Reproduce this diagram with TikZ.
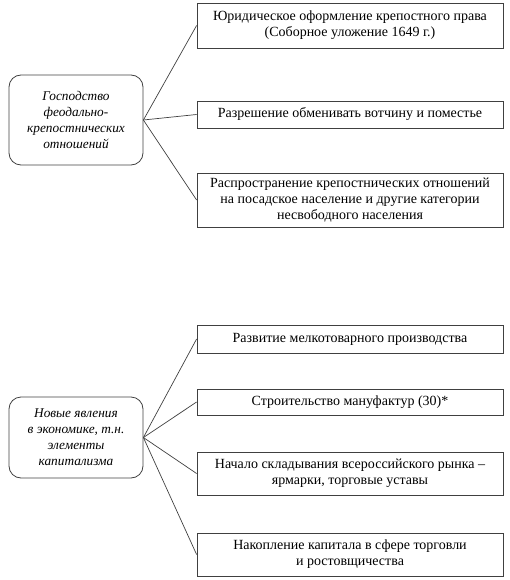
\documentclass[tikz,border=0pt]{standalone}
\usepackage{fontspec}
\setmainfont{Liberation Serif}
\begin{document}
\begin{tikzpicture}[x=1pt,y=-1pt,
  lbox/.style={draw=black!75,line width=0.8pt,rounded corners=12pt,align=center,
    font=\fontsize{13.3}{16}\selectfont\itshape,inner sep=0pt},
  rbox/.style={draw=black!75,line width=0.8pt,align=center,
    font=\fontsize{14}{15.8}\selectfont,inner sep=0pt},
  link/.style={draw=black!75,line width=0.7pt}]
\useasboundingbox (0,0) rectangle (509,580);
% top group
\node[lbox,minimum width=134pt,minimum height=90pt] (L1) at (76,120) {Господство\\феодально-\\крепостнических\\отношений};
\node[rbox,minimum width=306pt,minimum height=45pt] (A1) at (350,25.5) {Юридическое оформление крепостного права\\(Соборное уложение 1649 г.)};
\node[rbox,minimum width=306pt,minimum height=27pt] (A2) at (350,114.5) {Разрешение обменивать вотчину и поместье};
\node[rbox,minimum width=306pt,minimum height=54pt] (A3) at (350,200) {Распространение крепостнических отношений\\на посадское население и другие категории\\несвободного населения};
\draw[link] (L1.east) -- (A1.west);
\draw[link] (L1.east) -- (A2.west);
\draw[link] (L1.east) -- (A3.west);
% bottom group
\node[lbox,minimum width=134pt,minimum height=81pt] (L2) at (76,437.5) {Новые явления\\в экономике, т.н.\\элементы\\капитализма};
\node[rbox,minimum width=306pt,minimum height=28pt] (B1) at (350,339) {Развитие мелкотоварного производства};
\node[rbox,minimum width=306pt,minimum height=26pt] (B2) at (350,402) {Строительство мануфактур (30)*};
\node[rbox,minimum width=306pt,minimum height=43pt] (B3) at (350,473.5) {Начало складывания всероссийского рынка –\\ярмарки, торговые уставы};
\node[rbox,minimum width=306pt,minimum height=43pt] (B4) at (350,554.5) {Накопление капитала в сфере торговли\\и ростовщичества};
\draw[link] (L2.east) -- (B1.west);
\draw[link] (L2.east) -- (B2.west);
\draw[link] (L2.east) -- (B3.west);
\draw[link] (L2.east) -- (B4.west);
\end{tikzpicture}
\end{document}
